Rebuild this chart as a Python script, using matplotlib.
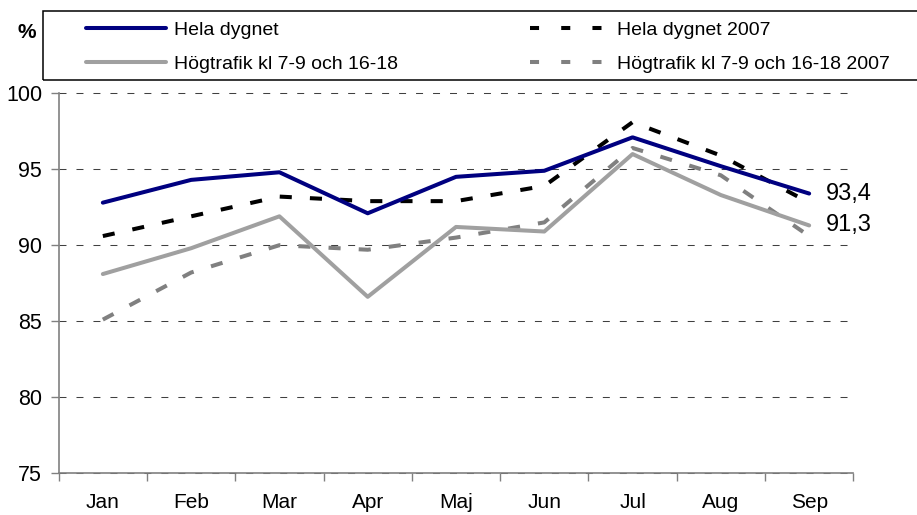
import numpy as np
import matplotlib.pyplot as plt
from matplotlib.lines import Line2D
from matplotlib.patches import Rectangle

plt.rcParams['font.family'] = ['Liberation Sans', 'DejaVu Sans']

months = ['Jan', 'Feb', 'Mar', 'Apr', 'Maj', 'Jun', 'Jul', 'Aug', 'Sep']
hela = [92.8, 94.3, 94.8, 92.1, 94.5, 94.9, 97.1, 95.2, 93.4]
hela_2007 = [90.6, 91.9, 93.2, 92.9, 92.9, 93.9, 98.1, 95.9, 92.8]
hog = [88.1, 89.8, 91.9, 86.6, 91.2, 90.9, 96.0, 93.3, 91.3]
hog_2007 = [85.1, 88.2, 90.0, 89.7, 90.5, 91.5, 96.4, 94.6, 90.6]
labels = ['Hela dygnet', 'Högtrafik kl 7-9 och 16-18',
          'Hela dygnet 2007', 'Högtrafik kl 7-9 och 16-18 2007']

NAVY = '#000080'
GREY = '#a0a0a0'
DGREY = '#808080'
lw = 2.9
dash = (0, (3, 4.5))

fig = plt.figure(figsize=(9.17, 5.15), dpi=100)
ax = fig.add_axes([58.7 / 917, 1 - 473 / 515, (853.3 - 58.7) / 917, (473 - 93.3) / 515])

x = np.arange(len(months)) + 0.5
ax.plot(x, hela_2007, color='black', lw=lw, linestyle=dash, zorder=3)
ax.plot(x, hog_2007, color=DGREY, lw=lw, linestyle=dash, zorder=3)
ax.plot(x, hog, color=GREY, lw=lw, solid_capstyle='round', zorder=4)
ax.plot(x, hela, color=NAVY, lw=lw, solid_capstyle='round', zorder=5)

ax.annotate(f'{hela[-1]:.1f}'.replace('.', ','), (x[-1], hela[-1]), xytext=(12, 0),
            textcoords='offset points', va='center', ha='left', fontsize=17,
            annotation_clip=False)
ax.annotate(f'{hog[-1]:.1f}'.replace('.', ','), (x[-1], hog[-1]), xytext=(12, 0),
            textcoords='offset points', va='center', ha='left', fontsize=17,
            annotation_clip=False)

ax.set_xlim(0, len(months))
ax.set_ylim(75, 100)
ax.set_yticks([75, 80, 85, 90, 95, 100])
ax.set_xticks(np.arange(len(months) + 1))
ax.set_xticklabels([])
ax.set_xticks(x, minor=True)
ax.set_xticklabels(months, minor=True)
ax.tick_params(axis='x', which='minor', length=0, pad=14.5, labelsize=15)
ax.tick_params(axis='x', which='major', length=6, width=1, color=DGREY, direction='out')
ax.tick_params(axis='y', length=6, width=1, color=DGREY, direction='out', pad=6, labelsize=15.5)

for s in ['top', 'right']:
    ax.spines[s].set_visible(False)
for s in ['left', 'bottom']:
    ax.spines[s].set_color(DGREY)
    ax.spines[s].set_linewidth(1.2)

ax.yaxis.grid(True, color='#404040', lw=0.75, linestyle=(0, (6.7, 9.6)))
ax.set_axisbelow(True)
for gl in ax.get_ygridlines():
    gl.set_clip_on(False)

# legend box
fig.patches.append(Rectangle((43 / 917, 1 - 80 / 515), 0.99, (80 - 11) / 515,
                             transform=fig.transFigure, fill=False,
                             edgecolor='black', lw=1.1))
leg_dash = (0, (2.25, 5.5))
handles = [Line2D([], [], color=NAVY, lw=lw, solid_capstyle='round'),
           Line2D([], [], color=GREY, lw=lw, solid_capstyle='round'),
           Line2D([], [], color='black', lw=lw, linestyle=leg_dash),
           Line2D([], [], color=DGREY, lw=lw, linestyle=leg_dash)]
fig.legend(handles, labels, ncol=2, loc='upper left',
           bbox_to_anchor=(86 / 917, 1 - 21.5 / 515), frameon=False,
           fontsize=14, borderpad=0, borderaxespad=0, handlelength=4.1,
           handletextpad=0.4, columnspacing=6.8, labelspacing=0.85)

fig.text(27 / 917, 1 - 33 / 515, '%', ha='center', va='center',
         fontsize=15, fontweight='bold')

fig.savefig('out.png', dpi=100)
